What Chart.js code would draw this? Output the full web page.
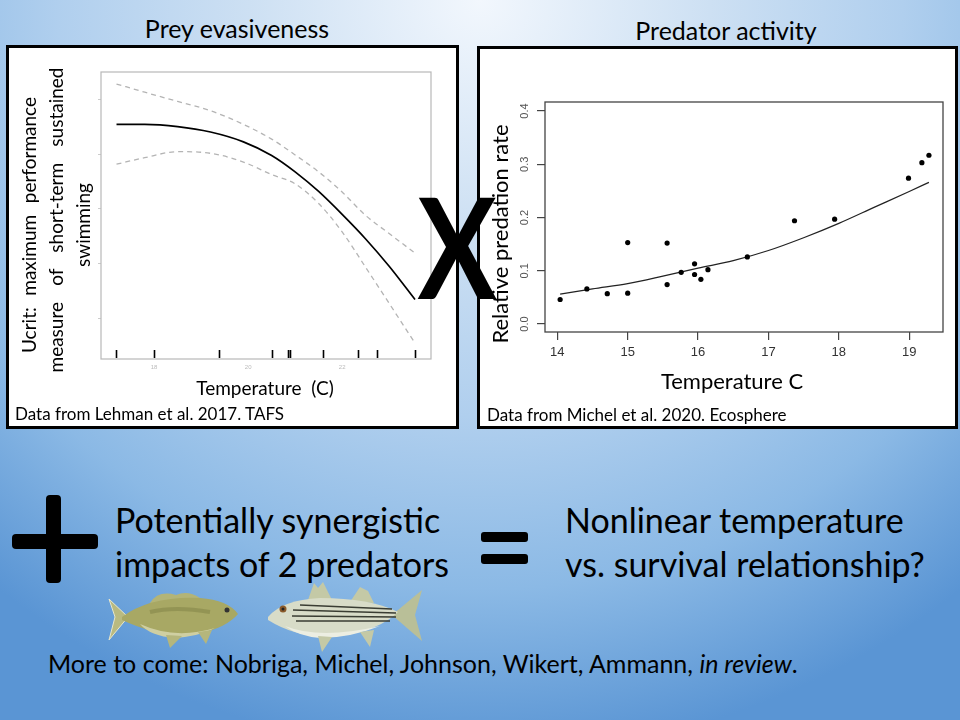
<!DOCTYPE html>
<html>
<head>
<meta charset="utf-8">
<script src="https://cdn.jsdelivr.net/npm/chart.js@4.4.1/dist/chart.umd.min.js"></script>
<style>
  body { margin: 0; }
  #slide {
    position: relative; width: 960px; height: 720px; overflow: hidden;
    font-family: Lato, "Open Sans", sans-serif; color: #000;
    background: radial-gradient(ellipse 80% 105% at 50% 0%, #f2f7fd 0%, #cde0f3 30%, #b0cfee 55%, #8bb9e5 78%, #5a95d4 100%);
  }
  .box { position: absolute; box-sizing: border-box; border: 3px solid #000; background: #fff; }
  .box canvas { position: absolute; left: 0; top: 0; }
  .t { position: absolute; line-height: 1; white-space: nowrap; }
  .rot { position: absolute; line-height: 1; white-space: nowrap; transform: translate(-50%, -50%) rotate(-90deg); }
  .just { text-align: justify; text-align-last: justify; }
  .bar { position: absolute; background: #000; border-radius: 4px; }
</style>
</head>
<body>
<div id="slide">
  <div class="box" style="left:6px; top:45px; width:453px; height:384px;">
    <canvas id="leftChart" width="447" height="378" style="width:447px;height:378px"></canvas>
  </div>
  <div class="box" style="left:477px; top:46px; width:481px; height:383px;">
    <canvas id="rightChart" width="475" height="377" style="width:475px;height:377px"></canvas>
  </div>

  <div class="t" style="left:237px; top:16px; font-size:25px; transform:translateX(-50%)">Prey evasiveness</div>
  <div class="t" style="left:726px; top:18px; font-size:25px; transform:translateX(-50%)">Predator activity</div>

  <div class="rot just" style="left:28px; top:225px; width:256px; font-size:19px;">Ucrit: maximum performance</div>
  <div class="rot just" style="left:55px; top:220px; width:305px; font-size:19px;">measure of short-term sustained</div>
  <div class="rot" style="left:82px; top:225px; font-size:19px;">swimming</div>
  <div class="t" style="left:265px; top:378px; font-size:19px; transform:translateX(-50%); white-space:pre">Temperature  (C)</div>
  <div class="t" style="left:15px; top:405px; font-size:17px;">Data from Lehman et al. 2017. TAFS</div>

  <div class="rot" style="left:500px; top:234px; font-size:22px;">Relative predation rate</div>
  <div class="t" style="left:732px; top:370px; font-size:22px; transform:translateX(-50%)">Temperature C</div>
  <div class="t" style="left:487px; top:406px; font-size:17px;">Data from Michel et al. 2020. Ecosphere</div>

  <div class="t" style="left:457px; top:176px; font-size:139px; font-weight:bold; transform:translateX(-50%) scaleX(0.85)">X</div>

  <div class="bar" style="left:46px; top:495px; width:15px; height:88px;"></div>
  <div class="bar" style="left:12px; top:534px; width:86px; height:15px;"></div>
  <div class="bar" style="left:481px; top:532px; width:47px; height:10px; border-radius:3px;"></div>
  <div class="bar" style="left:481px; top:554px; width:47px; height:10px; border-radius:3px;"></div>

  <div class="t" style="left:115px; top:503px; font-size:34px;">Potentially synergistic</div>
  <div class="t" style="left:115px; top:547px; font-size:34px;">impacts of 2 predators</div>
  <div class="t" style="left:565px; top:503px; font-size:34px;">Nonlinear temperature</div>
  <div class="t" style="left:565px; top:547px; font-size:34px;">vs. survival relationship?</div>
  <div class="t" style="left:48px; top:651px; font-size:25px;">More to come: Nobriga, Michel, Johnson, Wikert, Ammann, <i>in review</i>.</div>

  <svg style="position:absolute; left:0; top:0" width="960" height="720">
    <!-- largemouth bass -->
    <path d="M128 617 L109 599 L115 617 L109 640 Z" fill="#b9ba80" stroke="#e6e6cc" stroke-width="1"/>
    <path d="M150 603 Q158 590 176 595 Q188 590 200 598 L200 606 L152 607 Z" fill="#b3b477"/>
    <path d="M122 617 Q150 596 200 598 Q228 600 238 614 Q226 628 200 633 Q165 640 122 620 Z" fill="#a8a864"/>
    <path d="M140 624 Q175 640 215 628 Q200 636 175 638 Q150 636 140 624 Z" fill="#cfcfa2"/>
    <path d="M150 612 Q175 606 210 612" stroke="#86874a" stroke-width="4" fill="none" opacity="0.6"/>
    <path d="M166 635 L170 648 L182 636 Z M198 632 L206 644 L212 630 Z" fill="#b5b67c"/>
    <circle cx="227" cy="610" r="2.5" fill="#333"/>
    <!-- striped bass -->
    <path d="M392 615 L422 590 L415 615 L422 641 Z" fill="#b9bf98"/>
    <path d="M308 600 L314 583 L318 588 L323 582 L332 600 Z M350 602 L360 587 L368 591 L374 603 Z" fill="#c4c9a6"/>
    <path d="M268 617 Q282 600 320 598 Q370 598 398 612 Q380 630 340 636 Q300 640 268 620 Z" fill="#d8dcc8"/>
    <path d="M285 626 Q320 640 380 626 Q350 638 320 638 Q298 636 285 626 Z" fill="#eceee2"/>
    <path d="M300 605 L392 609 M293 610 L396 613 M292 616 L396 617 M296 621 L390 621" stroke="#3a3d33" stroke-width="1.4" fill="none"/>
    <path d="M318 636 L322 652 L332 637 Z M360 632 L370 647 L374 630 Z" fill="#c4c9a6"/>
    <circle cx="283" cy="609" r="3.5" fill="#8a5a2a"/>
    <circle cx="283" cy="609" r="1.5" fill="#222"/>
  </svg>
</div>

<script>
// ---- left panel: Ucrit vs temperature (Lehman et al. 2017) ----
const ucritTemps = [17.2, 17.8, 18.5, 19.2, 19.9, 20.5, 21.0, 21.5, 22.0, 22.5, 23.0, 23.55];
const ucritFit   = [4.55, 4.55, 4.51, 4.41, 4.23, 3.98, 3.68, 3.32, 2.90, 2.45, 1.95, 1.34];
const ucritUpper = [5.29, 5.14, 4.97, 4.80, 4.55, 4.28, 3.99, 3.68, 3.31, 2.88, 2.55, 2.19];
const ucritLower = [3.82, 3.94, 4.05, 4.02, 3.86, 3.63, 3.46, 3.10, 2.58, 1.93, 1.27, 0.54];
const rugTemps   = [17.19, 18.0, 19.38, 20.5, 20.85, 20.9, 21.59, 22.33, 22.74, 23.55];
const leftXTicks = [18, 20, 22];
const leftYTicks = [1, 2, 3, 4, 5];

// ---- right panel: predation rate vs temperature (Michel et al. 2020) ----
const predTemps = [14.04, 14.42, 14.71, 15.0, 15.0, 15.56, 15.56, 15.76, 15.95, 15.95, 16.04, 16.14, 16.70, 17.37, 17.94, 18.99, 19.18, 19.28];
const predRates = [0.046, 0.066, 0.057, 0.153, 0.058, 0.152, 0.074, 0.097, 0.113, 0.093, 0.084, 0.102, 0.126, 0.194, 0.197, 0.274, 0.303, 0.317];
const predFitTemps = [14.04, 14.5, 15.0, 15.5, 16.0, 16.5, 17.0, 17.5, 18.0, 18.5, 19.0, 19.28];
const predFitRates = [0.056, 0.066, 0.076, 0.090, 0.105, 0.119, 0.138, 0.162, 0.189, 0.219, 0.249, 0.266];
const rightXTicks = [14, 15, 16, 17, 18, 19];
const rightYTicks = [0, 0.1, 0.2, 0.3, 0.4];

const toPoints = (xs, ys) => xs.map((x, i) => ({ x: x, y: ys[i] }));

// box around the plot region, like R's box()
const framePlugin = {
    id: "frame",
    afterDatasetsDraw(chart, args, opts) {
        const a = chart.chartArea;
        const ctx = chart.ctx;
        ctx.save();
        ctx.strokeStyle = opts.color;
        ctx.lineWidth = opts.width;
        ctx.strokeRect(a.left, a.top, a.right - a.left, a.bottom - a.top);
        ctx.restore();
    }
};

// rug marks along the bottom of the left plot
const rugPlugin = {
    id: "rug",
    afterDatasetsDraw(chart) {
        const x = chart.scales.x;
        const a = chart.chartArea;
        const ctx = chart.ctx;
        ctx.save();
        ctx.strokeStyle = "#000";
        ctx.lineWidth = 1.6;
        ctx.beginPath();
        rugTemps.forEach(t => {
            const px = Math.round(x.getPixelForValue(t)) + 0.5;
            ctx.moveTo(px, a.bottom - 1);
            ctx.lineTo(px, a.bottom - 9);
        });
        ctx.stroke();
        ctx.restore();
    }
};

const fixedTicks = values => scale => { scale.ticks = values.map(v => ({ value: v })); };

new Chart(document.getElementById("leftChart"), {
    type: "line",
    data: {
        datasets: [
            { data: toPoints(ucritTemps, ucritFit), borderColor: "#000", borderWidth: 1.7 },
            { data: toPoints(ucritTemps, ucritUpper), borderColor: "#b4b4b4", borderWidth: 1.3, borderDash: [5, 4] },
            { data: toPoints(ucritTemps, ucritLower), borderColor: "#b4b4b4", borderWidth: 1.3, borderDash: [5, 4] }
        ]
    },
    options: {
        responsive: false,
        animation: false,
        elements: { point: { radius: 0 }, line: { cubicInterpolationMode: "monotone" } },
        layout: { padding: { left: 84, right: 25, top: 24, bottom: 47 } },
        plugins: { legend: { display: false }, tooltip: { enabled: false }, frame: { color: "#b8b8b8", width: 1.2 } },
        scales: {
            x: {
                type: "linear", min: 16.87, max: 23.89,
                afterBuildTicks: fixedTicks(leftXTicks),
                afterFit: s => { s.height = 20; },
                border: { display: false },
                grid: { drawOnChartArea: false, drawTicks: false },
                ticks: { padding: 5, color: "#bbb", font: { family: "Liberation Sans", size: 6 } }
            },
            y: {
                min: 0.25, max: 5.51,
                afterBuildTicks: fixedTicks(leftYTicks),
                afterFit: s => { s.width = 8; },
                border: { display: false },
                grid: { drawOnChartArea: false, tickLength: 3, color: "#ccc" },
                ticks: { display: false }
            }
        }
    },
    plugins: [framePlugin, rugPlugin]
});

new Chart(document.getElementById("rightChart"), {
    type: "scatter",
    data: {
        datasets: [
            { data: toPoints(predTemps, predRates), backgroundColor: "#000", borderColor: "#000", pointRadius: 2.6, pointBorderWidth: 0 },
            { type: "line", data: toPoints(predFitTemps, predFitRates), borderColor: "#222", borderWidth: 1.2, pointRadius: 0, cubicInterpolationMode: "monotone" }
        ]
    },
    options: {
        responsive: false,
        animation: false,
        layout: { padding: { left: 35, right: 12, top: 53, bottom: 64 } },
        plugins: { legend: { display: false }, tooltip: { enabled: false }, frame: { color: "#444", width: 1.3 } },
        scales: {
            x: {
                type: "linear", min: 13.825, max: 19.48,
                afterBuildTicks: fixedTicks(rightXTicks),
                afterFit: s => { s.height = 30; },
                border: { display: false },
                grid: { drawOnChartArea: false, tickLength: 8, color: "#444", lineWidth: 1.2 },
                ticks: { padding: 5, color: "#333", font: { family: "Liberation Sans", size: 13 } }
            },
            y: {
                min: -0.015, max: 0.417,
                afterBuildTicks: fixedTicks(rightYTicks),
                afterFit: s => { s.width = 30; },
                border: { display: false },
                grid: { drawOnChartArea: false, tickLength: 8, color: "#444", lineWidth: 1.2 },
                ticks: {
                    minRotation: 90, maxRotation: 90, crossAlign: "center", padding: 4,
                    color: "#555", font: { family: "Liberation Sans", size: 11 },
                    callback: v => v.toFixed(1)
                }
            }
        }
    },
    plugins: [framePlugin]
});
</script>
</body>
</html>
